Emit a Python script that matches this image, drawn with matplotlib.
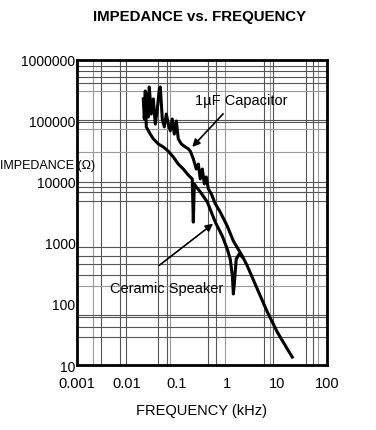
import matplotlib
matplotlib.use("Agg")
import matplotlib.pyplot as plt
from matplotlib import font_manager

names = {f.name for f in font_manager.fontManager.ttflist}
narrow = "Liberation Sans Narrow" if "Liberation Sans Narrow" in names else "Liberation Sans"
plt.rcParams["font.family"] = ["Liberation Sans", "DejaVu Sans"]

# ---- data ----
cap_freq_khz = [0.0243, 0.0267, 0.0279, 0.0306, 0.0336, 0.0368, 0.0404, 0.0443, 0.0463,
                0.0508, 0.0557, 0.0611, 0.0670, 0.0735, 0.0805, 0.0883, 0.0968, 0.106,
                0.122, 0.147, 0.168, 0.185, 0.212, 0.243, 0.267, 0.292, 0.321, 0.352,
                0.385, 0.423, 0.485, 0.583, 0.735, 1.01, 1.34, 2.02, 2.55, 4.04, 6.40,
                10.1, 16.1, 20.2]
cap_impedance = [277e3, 116e3, 361e3, 130e3, 230e3, 89e3, 157e3, 335e3, 361e3,
                 108e3, 80e3, 130e3, 89e3, 69e3, 108e3, 61e3, 100e3, 51e3,
                 42e3, 37.5e3, 35e3, 32e3, 24e3, 16.3e3, 19.7e3, 11.2e3, 16.3e3, 9.3e3,
                 12.1e3, 7.7e3, 6.4e3, 4.4e3, 3.2e3, 1.9e3, 1.08e3, 612, 420, 176, 74,
                 34.8, 18.3, 13.5]

spk_freq_khz = [0.0212, 0.0222, 0.0232, 0.0243, 0.0292, 0.0336, 0.0423, 0.0532, 0.0670,
                0.0843, 0.106, 0.134, 0.168, 0.202, 0.212, 0.222, 0.243, 0.292, 0.404,
                0.583, 0.805, 1.01, 1.16, 1.28, 1.34, 1.40, 1.53, 1.76, 2.02]
spk_impedance = [230e3, 108e3, 311e3, 80e3, 61e3, 51e3, 42e3, 37.5e3, 32e3,
                 25.7e3, 19.7e3, 16.3e3, 13e3, 11.2e3, 2.2e3, 9.3e3, 8.3e3, 6.9e3, 4.7e3,
                 2.2e3, 1.3e3, 800, 547, 288, 146, 213, 547, 661, 589]

x_ticks = [0.001, 0.01, 0.1, 1, 10, 100]
x_tick_labels = ["0.001", "0.01", "0.1", "1", "10", "100"]
y_ticks = [10, 100, 1000, 10000, 100000, 1000000]
y_tick_labels = ["10", "100", "1000", "10000", "100000", "1000000"]

# irregular grid of the original chart paper
grid_x_dark = [0.00302, 0.00711, 0.0097, 0.0409, 0.063, 0.409, 0.611, 5.4, 8.3, 38.5, 52.5]
grid_x_light = [0.00209, 0.0711, 0.925, 7.35, 65]
grid_y_dark = [807e3, 668e3, 520e3, 415e3, 104e3, 95e3, 9.9e3, 8.2e3, 6.8e3, 4.9e3,
               851, 620, 453, 302, 66, 61, 41.5, 28.5]
grid_y_light = [314e3, 74e3, 30.7e3, 199]

fig = plt.figure(figsize=(3.76, 4.31), dpi=100)
ax = fig.add_axes([77 / 376, 1 - 366 / 431, 250 / 376, 305 / 431])
ax.set_xscale("log")
ax.set_yscale("log")
ax.set_xlim(0.001, 100)
ax.set_ylim(10, 1000000)

for gx in grid_x_dark:
    ax.axvline(gx, color="#555555", lw=0.8, zorder=1)
for gx in grid_x_light:
    ax.axvline(gx, color="#9a9a9a", lw=0.8, zorder=1)
for gy in grid_y_dark:
    ax.axhline(gy, color="#555555", lw=0.8, zorder=1)
for gy in grid_y_light:
    ax.axhline(gy, color="#9a9a9a", lw=0.8, zorder=1)

ax.plot(cap_freq_khz, cap_impedance, color="black", lw=2.2, zorder=3)
ax.plot(spk_freq_khz, spk_impedance, color="black", lw=2.2, zorder=3)

ax.set_xticks(x_ticks)
ax.set_xticklabels(x_tick_labels)
ax.set_yticks(y_ticks)
ax.set_yticklabels(y_tick_labels)
ax.minorticks_off()
ax.tick_params(axis="both", length=0)
ax.tick_params(axis="x", pad=8, labelsize=10.5)
ax.tick_params(axis="y", pad=1, labelsize=10)
for s in ax.spines.values():
    s.set_linewidth(2.0)

ax.set_xlabel("FREQUENCY (kHz)", fontsize=10.5, labelpad=9)

fig.text(0.532, 1 - 17 / 431, "IMPEDANCE vs. FREQUENCY", ha="center", va="center",
         fontsize=10.8, fontweight="bold", family=[narrow, "DejaVu Sans"])
fig.text(0.0, 1 - 166 / 431, "IMPEDANCE (Ω)", ha="left", va="center", fontsize=9)

ax.annotate("", xy=(0.185, 34.8e3), xytext=(0.592, 0.830), textcoords="axes fraction",
            arrowprops=dict(arrowstyle="-|>", color="black", lw=1.2, mutation_scale=11), zorder=4)
ax.text(0.656, 0.869, "1µF Capacitor", transform=ax.transAxes, ha="center", va="center",
        fontsize=10.5, zorder=5)
ax.annotate("", xy=(0.583, 2210), xytext=(0.32, 0.321), textcoords="axes fraction",
            arrowprops=dict(arrowstyle="-|>", color="black", lw=1.2, mutation_scale=11), zorder=4)
ax.text(0.36, 0.252, "Ceramic Speaker", transform=ax.transAxes, ha="center", va="center",
        fontsize=10.5, zorder=5)

fig.savefig("out.png", dpi=100)
